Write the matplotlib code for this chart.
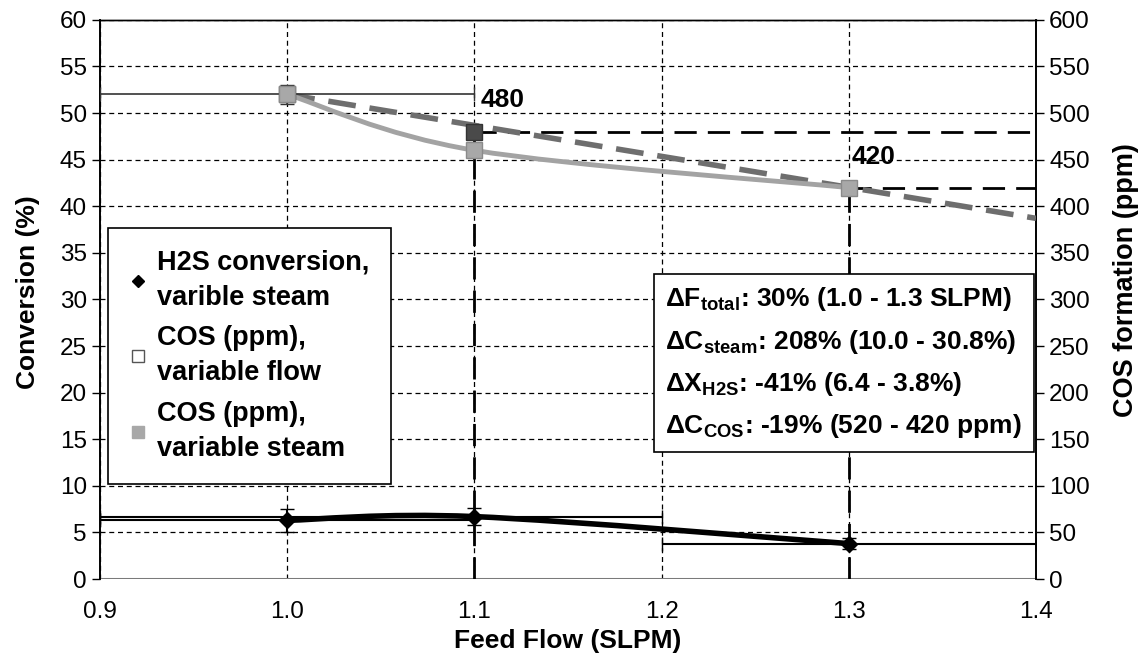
import numpy as np
import matplotlib
matplotlib.use("Agg")
import matplotlib.pyplot as plt
from matplotlib.path import Path
from matplotlib.patches import PathPatch
from matplotlib.lines import Line2D

plt.rcParams["font.family"] = ["Liberation Sans", "DejaVu Sans"]
plt.rcParams["mathtext.fontset"] = "custom"
plt.rcParams["mathtext.rm"] = "Liberation Sans"
plt.rcParams["mathtext.bf"] = "Liberation Sans:bold"

# ---------------- Data ----------------

flow = [1.0, 1.1, 1.3]

h2s_conv = [6.3, 6.7, 3.8]
h2s_yerr = [1.2, 0.9, 0.6]
h2s_xerr_lo = [0.1, 0.2, 0.1]
h2s_xerr_hi = [0.1, 0.1, 0.1]

cos_steam = [520, 460, 420]
cos_steam_yerr = [10, 0, 0]
cos_steam_xerr = [0.1, 0, 0]

flow_var = [1.0, 1.1]
cos_flow = [520, 480]

trend_x = [1.0, 1.4]
trend_y = [520, 387]

ref_x = [1.1, 1.3]
ref_y = [480, 420]

box_lines = [
    r"ΔF$_{\mathbf{total}}$: 30% (1.0 - 1.3 SLPM)",
    r"ΔC$_{\mathbf{steam}}$: 208% (10.0 - 30.8%)",
    r"ΔX$_{\mathbf{H2S}}$: -41% (6.4 - 3.8%)",
    r"ΔC$_{\mathbf{COS}}$: -19% (520 - 420 ppm)",
]


def smooth_path(xs, ys):
    # Excel-like smoothed line as cubic Bezier segments
    pts = np.column_stack([xs, ys]).astype(float)
    verts = [pts[0]]
    codes = [Path.MOVETO]
    n = len(pts)
    for i in range(n - 1):
        p0 = pts[i - 1] if i > 0 else pts[i]
        p1 = pts[i]
        p2 = pts[i + 1]
        p3 = pts[i + 2] if i + 2 < n else pts[i + 1]
        c1 = p1 + (p2 - p0) / 6.0
        c2 = p2 - (p3 - p1) / 6.0
        verts += [c1, c2, p2]
        codes += [Path.CURVE4] * 3
    return Path(verts, codes)


# ---------------- Figure ----------------

fig = plt.figure(figsize=(11.38, 6.61), dpi=100)
ax = fig.add_axes([0.0879, 0.124, 0.8225, 0.846])
ax2 = ax.twinx()

ax.set_xlim(0.9, 1.4)
ax.set_ylim(0, 60)
ax2.set_ylim(0, 600)

ax.set_xticks(np.arange(0.9, 1.41, 0.1))
ax.set_xticklabels(["0.9", "1.0", "1.1", "1.2", "1.3", "1.4"])
ax.set_yticks(np.arange(0, 61, 5))
ax2.set_yticks(np.arange(0, 601, 50))

ax.grid(True, color="black", linestyle=(0, (4, 3)), linewidth=0.9)
ax.set_axisbelow(True)

for a in (ax, ax2):
    a.spines["bottom"].set_visible(False)
    a.spines["top"].set_linewidth(1.0)
    a.spines["left"].set_linewidth(1.2)
    a.spines["right"].set_linewidth(1.2)
ax.axhline(0, color="#7a7a7a", linewidth=2.2, zorder=1)

ax.tick_params(axis="y", direction="out", length=6, labelsize=17.5, width=1)
ax2.tick_params(axis="y", direction="out", length=6, labelsize=17.5, width=1)
ax.tick_params(axis="x", length=0, labelsize=17.5, pad=16)

ax.set_xlabel("Feed Flow (SLPM)", fontsize=19, fontweight="bold", labelpad=4)
ax.set_ylabel("Conversion (%)", fontsize=19, fontweight="bold")
ax2.set_ylabel("COS formation (ppm)", fontsize=19.5, fontweight="bold")
ax.yaxis.set_label_coords(-0.064, 0.513)
ax2.yaxis.set_label_coords(1.082, 0.535)

# ---------------- H2S conversion ----------------

ax.add_patch(PathPatch(smooth_path(flow, h2s_conv), facecolor="none",
                       edgecolor="black", linewidth=4, zorder=4))
ax.errorbar(flow, h2s_conv, yerr=h2s_yerr, xerr=[h2s_xerr_lo, h2s_xerr_hi],
            fmt="D", color="black", markersize=8, ecolor="black",
            elinewidth=1.5, capsize=5, zorder=5)

# ---------------- COS reference lines ----------------

for xv, yv in zip(ref_x, ref_y):
    ax2.plot([xv, 1.4], [yv, yv], color="black", linewidth=2,
             linestyle=(0, (8, 4)), zorder=3)
    ax2.plot([xv, xv], [0, yv], color="black", linewidth=2,
             linestyle=(0, (8, 4)), zorder=3)

ax2.text(1.115, 514, "480", fontsize=19, fontweight="bold", ha="center", va="center")
ax2.text(1.313, 453, "420", fontsize=19, fontweight="bold", ha="center", va="center")

# ---------------- COS variable flow (trend) ----------------

ax2.plot(trend_x, trend_y, color="#6e6e6e", linewidth=4,
         linestyle=(0, (5, 2.5)), zorder=4)
ax2.plot(flow_var, cos_flow, "s", color="#4a4a4a", markersize=11,
         markeredgecolor="#333333", zorder=6)

# ---------------- COS variable steam ----------------

ax2.add_patch(PathPatch(smooth_path(flow, cos_steam), facecolor="none",
                        edgecolor="#a3a3a3", linewidth=3.5, zorder=5))
ax2.errorbar(flow, cos_steam, yerr=cos_steam_yerr, xerr=cos_steam_xerr,
             fmt="s", color="#a8a8a8", markersize=11, markeredgecolor="#8a8a8a",
             ecolor="#333333", elinewidth=1.2, capsize=5, zorder=6)

# ---------------- Legend ----------------

handles = [
    Line2D([], [], marker="D", color="black", linestyle="none", markersize=6),
    Line2D([], [], marker="s", markerfacecolor="white", markeredgecolor="#555555",
           linestyle="none", markersize=8),
    Line2D([], [], marker="s", markerfacecolor="#a8a8a8", markeredgecolor="#a8a8a8",
           linestyle="none", markersize=8),
]
labels = ["H2S conversion,\nvarible steam", "COS (ppm),\nvariable flow",
          "COS (ppm),\nvariable steam"]
leg = ax2.legend(handles, labels, loc="upper left", bbox_to_anchor=(0.0085, 0.628),
                 borderaxespad=0, prop={"size": 19.5, "weight": "bold"},
                 frameon=True, fancybox=False, edgecolor="black", framealpha=1,
                 handlelength=0.6, handletextpad=0.4, labelspacing=0.55,
                 borderpad=0.8)
for t in leg.get_texts():
    t.set_linespacing(1.45)
leg.get_frame().set_linewidth(1.2)
leg.set_zorder(10)

# ---------------- Text box ----------------

ax2.text(0.604, 0.525, "\n".join(box_lines), transform=ax2.transAxes,
         fontsize=19, fontweight="bold", ha="left", va="top", linespacing=1.68,
         bbox=dict(boxstyle="square,pad=0.45", facecolor="white",
                   edgecolor="black", linewidth=1.2), zorder=10)

fig.savefig("out.png", dpi=100)
